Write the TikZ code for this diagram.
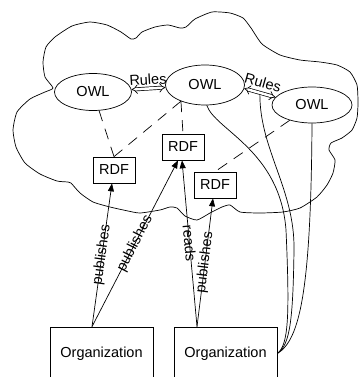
\documentclass[tikz,border=0pt]{standalone}
\usepackage{fontspec}
\setmainfont{Liberation Sans}
\usetikzlibrary{arrows.meta,shapes.geometric,calc}

\begin{document}
\begin{tikzpicture}[
    x=1pt,y=-1pt,line width=0.7pt,
    every node/.style={font=\fontsize{14.5}{17}\selectfont},
    owl/.style={ellipse,draw,fill=white,inner sep=0pt},
    rdf/.style={rectangle,draw,fill=white,minimum width=42pt,minimum height=26pt,inner sep=0pt},
    org/.style={rectangle,draw,fill=white,minimum width=103pt,minimum height=53pt},
    pub/.style={-{Triangle[length=8pt,width=6pt]}},
    dashline/.style={dash pattern=on 11pt off 8pt},
    rulesarrow/.style={double,double distance=2.5pt,{Implies}-{Implies}},
    edgelbl/.style={midway,sloped,inner sep=1pt}
  ]
    \useasboundingbox (0,0) rectangle (359,377);
    % the cloud
    \draw plot[smooth cycle,tension=0.35] coordinates {
      (53,88) (45,77) (43,62) (46,47) (55,37) (72,26) (90,22) (107,25) (121,32)
      (131,39) (136,38) (142,32) (155,27) (168,25) (180,28) (186,27) (195,19)
      (212,12) (230,13) (243,18) (251,28) (262,44) (280,55) (300,60) (320,62)
      (337,65) (350,72) (357,85) (358,103) (357,118) (352,130) (342,138) (331,143)
      (329,150) (335,160) (333,173) (327,185) (317,197) (300,208) (283,212)
      (260,213) (240,212) (230,205) (222,207) (210,213) (197,220) (185,216)
      (177,208) (170,207) (160,210) (140,213) (128,211) (110,207) (93,202)
      (80,193) (71,183) (68,182) (57,181) (40,174) (25,163) (16,147) (13,130)
      (17,112) (30,99) (45,92)};

    \node[owl,minimum width=77pt,minimum height=37pt] (owlL) at (93,92)  {OWL};
    \node[owl,minimum width=79pt,minimum height=40pt] (owlM) at (205,85) {OWL};
    \node[owl,minimum width=80pt,minimum height=36pt] (owlR) at (312,105) {OWL};

    \node[rdf] (rdfA) at (114,170) {RDF};
    \node[rdf] (rdfB) at (183,147) {RDF};
    \node[rdf] (rdfC) at (215,185) {RDF};

    \node[org] (orgA) at (101.5,353.5) {Organization};
    \node[org] (orgB) at (225.5,353.5) {Organization};

    \draw[rulesarrow] (owlL) -- node[above,sloped]{Rules} (owlM);
    \draw[rulesarrow] (owlM.-5) -- node[above=2pt,sloped]{Rules} coordinate[pos=0.5] (rmid) (owlR.168);

    \draw[dashline] (owlL) -- (rdfA.north);
    \draw[dashline] (owlM.214) -- (rdfA.north);
    \draw[dashline] (owlM.214) -- (rdfB.north);
    \draw[dashline] (owlR) -- (rdfC.north);

    \draw[pub] ([xshift=-9.5pt]orgA.north) -- node[edgelbl]{publishes} ([xshift=-2pt]rdfA.south);
    \draw[pub] ([xshift=-9.5pt]orgA.north) -- node[edgelbl]{publishes} ([xshift=-5pt]rdfB.south);
    \draw[pub] ([xshift=-28.5pt]orgB.north) -- node[edgelbl]{reads} ([xshift=-1pt]rdfB.south);
    \draw[pub] ([xshift=-28.5pt]orgB.north) -- node[edgelbl]{publishes} ([xshift=-2pt]rdfC.south);

    \draw (owlM.-85) .. controls (215,130) and (280,150) .. (286,230)
          .. controls (290,320) and (288,345) .. (orgB.east);
    \draw ([yshift=-2pt]rmid) .. controls (260,150) and (295,190) .. (294,250)
          .. controls (293,320) and (290,345) .. (orgB.east);
    \draw (owlR.south) .. controls (311,290) and (300,340) .. (orgB.east);
  \end{tikzpicture}
\end{document}
